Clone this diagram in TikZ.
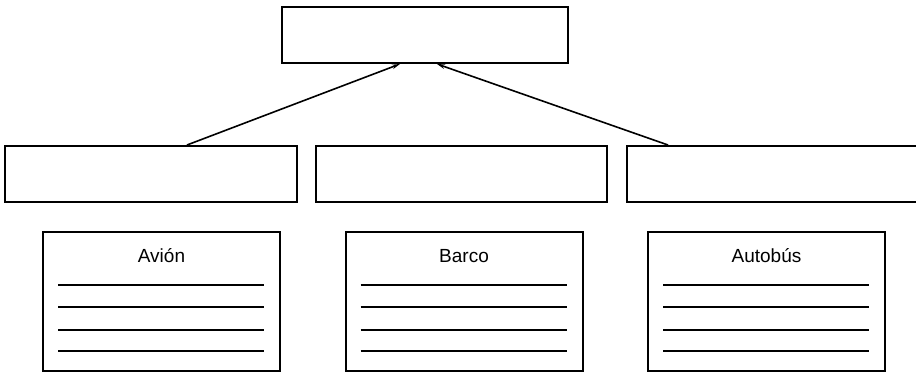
\documentclass[tikz,border=0pt]{standalone}
\usepackage{fontspec}
\setmainfont{Liberation Sans}
\usetikzlibrary{arrows.meta}

\begin{document}
\begin{tikzpicture}[x=1pt, y=-1pt,
        every node/.style={align=center},
        slot/.style={draw, line width=2pt, minimum width=291pt,
                     minimum height=56pt, inner sep=0pt},
        card/.style={draw, line width=2pt, minimum width=237pt,
                     minimum height=139pt, inner sep=0pt},
        title/.style={font=\fontsize{19}{22}\selectfont},
        rule/.style={line width=1.8pt},
        link/.style={line width=1.6pt, -{Stealth[length=8pt, width=4.5pt]}},
    ]
    \useasboundingbox (0,0) rectangle (916,373);
    \clip (0,0) rectangle (916,373);

    % --- Top box -----------------------------------------------------------
    \node[slot, minimum width=286pt] (top) at (425,35) {};

    % --- Middle row of three empty boxes ----------------------------------
    \node[slot, minimum width=292pt] (left)   at (151,174)   {};
    \node[slot]                      (centre) at (461.5,174) {};
    \node[slot]                      (right)  at (772.5,174) {};

    % --- Connectors up into the top box -------------------------------------
    \draw[link] ([xshift=36pt]left.north)
        -- ([xshift=-25pt]top.south);
    \draw[link] ([xshift=-104.5pt]right.north)
        -- ([xshift=12pt]top.south);

    % --- Bottom row of lined cards -------------------------------------------
    \node[card] (avion)   at (161.5,301.5) {};
    \node[card] (barco)   at (464,301.5)   {};
    \node[card] (autobus) at (766.5,301.5) {};

    \node[title] at ([yshift=-25pt]avion.north)   {Avión};
    \node[title] at ([yshift=-25pt]barco.north)   {Barco};
    \node[title] at ([yshift=-25pt]autobus.north) {Autobús};

    % Writing lines inside each card
    \draw[rule]
        ([xshift=16pt, yshift=-54pt]avion.north west)  -- ([xshift=-17pt, yshift=-54pt]avion.north east)
        ([xshift=16pt, yshift=-76pt]avion.north west)  -- ([xshift=-17pt, yshift=-76pt]avion.north east)
        ([xshift=16pt, yshift=-99pt]avion.north west)  -- ([xshift=-17pt, yshift=-99pt]avion.north east)
        ([xshift=16pt, yshift=-120pt]avion.north west) -- ([xshift=-17pt, yshift=-120pt]avion.north east);
    \draw[rule]
        ([xshift=16pt, yshift=-54pt]barco.north west)  -- ([xshift=-17pt, yshift=-54pt]barco.north east)
        ([xshift=16pt, yshift=-76pt]barco.north west)  -- ([xshift=-17pt, yshift=-76pt]barco.north east)
        ([xshift=16pt, yshift=-99pt]barco.north west)  -- ([xshift=-17pt, yshift=-99pt]barco.north east)
        ([xshift=16pt, yshift=-120pt]barco.north west) -- ([xshift=-17pt, yshift=-120pt]barco.north east);
    \draw[rule]
        ([xshift=16pt, yshift=-54pt]autobus.north west)  -- ([xshift=-17pt, yshift=-54pt]autobus.north east)
        ([xshift=16pt, yshift=-76pt]autobus.north west)  -- ([xshift=-17pt, yshift=-76pt]autobus.north east)
        ([xshift=16pt, yshift=-99pt]autobus.north west)  -- ([xshift=-17pt, yshift=-99pt]autobus.north east)
        ([xshift=16pt, yshift=-120pt]autobus.north west) -- ([xshift=-17pt, yshift=-120pt]autobus.north east);

\end{tikzpicture}
\end{document}
